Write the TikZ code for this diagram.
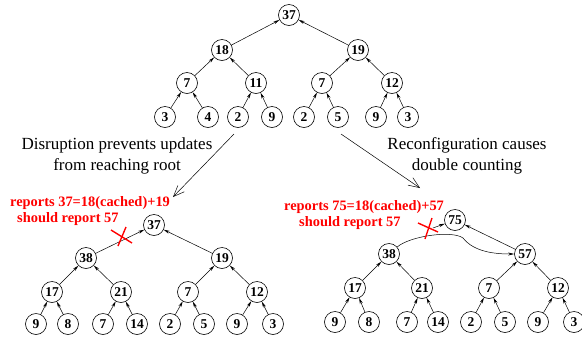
\documentclass[tikz,border=0pt]{standalone}
\usepackage{fontspec}
\setmainfont{Liberation Serif}
\usetikzlibrary{arrows.meta}
\begin{document}
\begin{tikzpicture}[x=1pt,y=-1pt,
  nd/.style={circle,draw,line width=0.6pt,inner sep=0pt,minimum size=21pt,font=\fontsize{13.5}{13.5}\selectfont\bfseries},
  ed/.style={line width=0.5pt,-{Stealth[length=6pt,width=3pt]}},
  big/.style={line width=0.5pt,-{Straight Barb[length=11pt,width=9pt]}},
  lab/.style={font=\fontsize{17}{21}\selectfont,align=center},
  redtxt/.style={font=\fontsize{14.4}{14.4}\selectfont\bfseries,text=red,anchor=west,inner sep=0pt},
  xmark/.style={draw=red,line width=1.4pt}]
\useasboundingbox (0,0) rectangle (582,341);

% top tree
\node[nd] (t) at (289,15) {37};
\node[nd] (t1) at (222,50) {18};
\node[nd] (t2) at (358,50) {19};
\node[nd] (t11) at (187,83) {7};
\node[nd] (t12) at (256,83) {11};
\node[nd] (t21) at (322,83) {7};
\node[nd] (t22) at (392,83) {12};
\node[nd] (ta) at (165,117) {3};
\node[nd] (tb) at (208,117) {4};
\node[nd] (tc) at (238,117) {2};
\node[nd] (td) at (272,117) {9};
\node[nd] (te) at (304,117) {2};
\node[nd] (tf) at (338,117) {5};
\node[nd] (tg) at (376,117) {9};
\node[nd] (th) at (408,117) {3};
\foreach \a/\b in {t1/t,t2/t,t11/t1,t12/t1,t21/t2,t22/t2,ta/t11,tb/t11,tc/t12,td/t12,te/t21,tf/t21,tg/t22,th/t22}
  \draw[ed] (\a) -- (\b);

% left tree
\node[nd] (l) at (154,225) {37};
\node[nd] (l1) at (86,258) {38};
\node[nd] (l2) at (222,258) {19};
\node[nd] (l11) at (52,292) {17};
\node[nd] (l12) at (121,292) {21};
\node[nd] (l21) at (188,292) {7};
\node[nd] (l22) at (257,292) {12};
\node[nd] (la) at (36,324) {9};
\node[nd] (lb) at (68,324) {8};
\node[nd] (lc) at (103,324) {7};
\node[nd] (ld) at (137,324) {14};
\node[nd] (le) at (170,324) {2};
\node[nd] (lf) at (204,324) {5};
\node[nd] (lg) at (237,324) {9};
\node[nd] (lh) at (273,324) {3};
\foreach \a/\b in {l1/l,l2/l,l11/l1,l12/l1,l21/l2,l22/l2,la/l11,lb/l11,lc/l12,ld/l12,le/l21,lf/l21,lg/l22,lh/l22}
  \draw[ed] (\a) -- (\b);
\draw[xmark] (111,230) -- (132,243);
\draw[xmark] (126,227) -- (118,246);
\node[redtxt] (lr1) at (10,203) {reports 37=18(cached)+19};
\node[redtxt] (lr2) at (17,219) {should report 57};

% right tree
\node[nd] (r) at (455,220) {75};
\node[nd] (r1) at (389,254) {38};
\node[nd] (r2) at (525,254) {57};
\node[nd] (r11) at (355,288) {17};
\node[nd] (r12) at (422,288) {21};
\node[nd] (r21) at (489,288) {7};
\node[nd] (r22) at (558,288) {12};
\node[nd] (ra) at (335,322) {9};
\node[nd] (rb) at (369,322) {8};
\node[nd] (rc) at (407,322) {7};
\node[nd] (rd) at (438,322) {14};
\node[nd] (re) at (471,322) {2};
\node[nd] (rf) at (505,322) {5};
\node[nd] (rg) at (538,322) {9};
\node[nd] (rh) at (574,322) {3};
\foreach \a/\b in {r2/r,r11/r1,r12/r1,r21/r2,r22/r2,ra/r11,rb/r11,rc/r12,rd/r12,re/r21,rf/r21,rg/r22,rh/r22}
  \draw[ed] (\a) -- (\b);
\coordinate (rx) at (433,228);
\draw[ed] (rx) -- (r);
\draw[ed] (r1) .. controls (410,236) and (452,230) .. (463,238)
  .. controls (474,252) and (495,254) .. (r2);
\draw[xmark] (418,223) -- (438,232);
\draw[xmark] (432,218) -- (425,239);
\node[redtxt] (rr1) at (284,207) {reports 75=18(cached)+57};
\node[redtxt] (rr2) at (299,223) {should report 57};

% labels and big arrows
\node[lab] (ll) at (117,156) {Disruption prevents updates\\from reaching root};
\node[lab] (rl) at (467,156) {Reconfiguration causes\\double counting};
\coordinate (la0) at (234,134);
\coordinate (la1) at (173,197);
\coordinate (ra0) at (341,134);
\coordinate (ra1) at (420,188);
\draw[big] (la0) -- (la1);
\draw[big] (ra0) -- (ra1);
\end{tikzpicture}
\end{document}
